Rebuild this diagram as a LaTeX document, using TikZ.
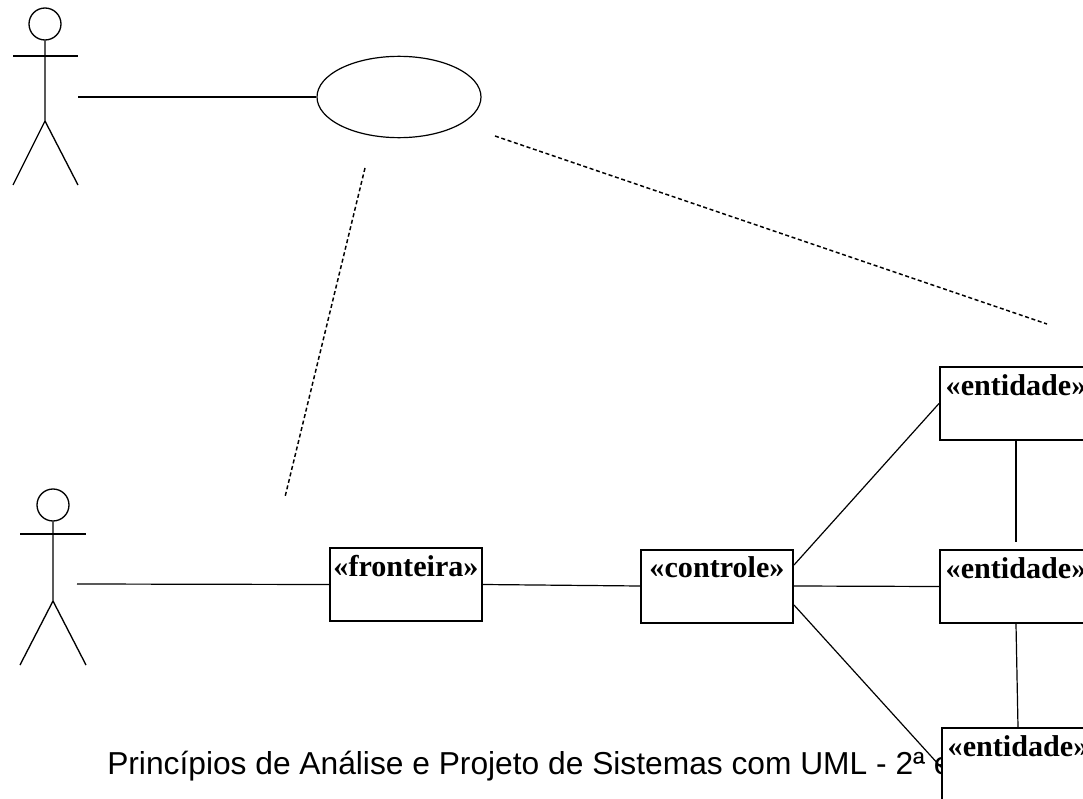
\documentclass[tikz,border=0pt]{standalone}
\usepackage{fontspec}
\setmainfont{Liberation Serif}
\newfontfamily\rodape{Liberation Sans}
\usetikzlibrary{shapes.geometric}

\begin{document}
\begin{tikzpicture}[%
      x=0.75pt,y=-0.75pt,
      classe/.style={draw=black,fill=white,line width=1.5pt,inner sep=0pt,text width=114pt,align=center,
        text height=21pt,text depth=33.75pt,font=\fontsize{22.6}{26}\selectfont\bfseries},
      ator/.style={color=black,line width=1pt},
      ligacao/.style={color=black,line width=0.9pt},
      tracos/.style={color=black,line width=1.1pt,dash pattern=on 3pt off 2pt},
      ]
      \useasboundingbox (0,0) rectangle (1083,799);
      \clip (0,0) rectangle (1083,799);

      \node [anchor=base west,inner sep=0pt,font=\rodape\fontsize{23.8}{28}\selectfont] (rodape) at (107,774) {Princípios de Análise e Projeto de Sistemas com UML - 2ª\llap{\rule[8.6pt]{7pt}{0.6pt}} e};

      % atores
      \node [draw,ator,circle,minimum size=24pt,inner sep=0pt] (cabecaA) at (45,24) {};
      \draw [ator] (cabecaA.south) -- (45,121) -- (13,185);
      \draw [ator] (45,121) -- (78,185);
      \draw [ator] (13,56) -- (78,56);

      \node [draw,ator,circle,minimum size=24pt,inner sep=0pt] (cabecaB) at (53,505) {};
      \draw [ator] (cabecaB.south) -- (53,601) -- (20,665);
      \draw [ator] (53,601) -- (86,665);
      \draw [ator] (20,534) -- (86,534);

      % caso de uso
      \node [draw,ligacao,ellipse,minimum width=123pt,minimum height=61pt,inner sep=0pt] (caso) at (399,97) {};

      % classes
      \node [classe] (fronteira) at (406,584.5) {«fronteira»};
      \node [classe] (controle) at (717,586) {«controle»};
      \node [classe] (entidadeA) at (1016,403.5) {«entidade»};
      \node [classe] (entidadeB) at (1016,586.5) {«entidade»};
      \node [classe] (entidadeC) at (1018,764.5) {«entidade»};

      \coordinate (maoA) at (78,97);
      \coordinate (maoB) at (77,584);
      \coordinate (casoA) at (365,168);
      \coordinate (casoB) at (495,136);
      \coordinate (fimA) at (285,497);
      \coordinate (fimB) at (1047,324);

      \draw [ligacao] (maoA) -- (caso.west);
      \draw [ligacao] (maoB) -- (fronteira.west);
      \draw [tracos] (casoA) -- (fimA);
      \draw [tracos] (casoB) -- (fimB);

      \draw [ligacao] (fronteira.east) -- (controle.west);
      \draw [ligacao] ([yshift=15.75pt]controle.east) -- (entidadeA.west);
      \draw [ligacao] (controle.east) -- (entidadeB.west);
      \draw [ligacao] ([yshift=-14.25pt]controle.east) -- ([yshift=-2pt]entidadeC.west);
      \draw [ligacao,shorten >=5pt] (entidadeA.south) -- (entidadeB.north);
      \draw [ligacao] (entidadeB.south) -- (entidadeC.north);
      \end{tikzpicture}
\end{document}
